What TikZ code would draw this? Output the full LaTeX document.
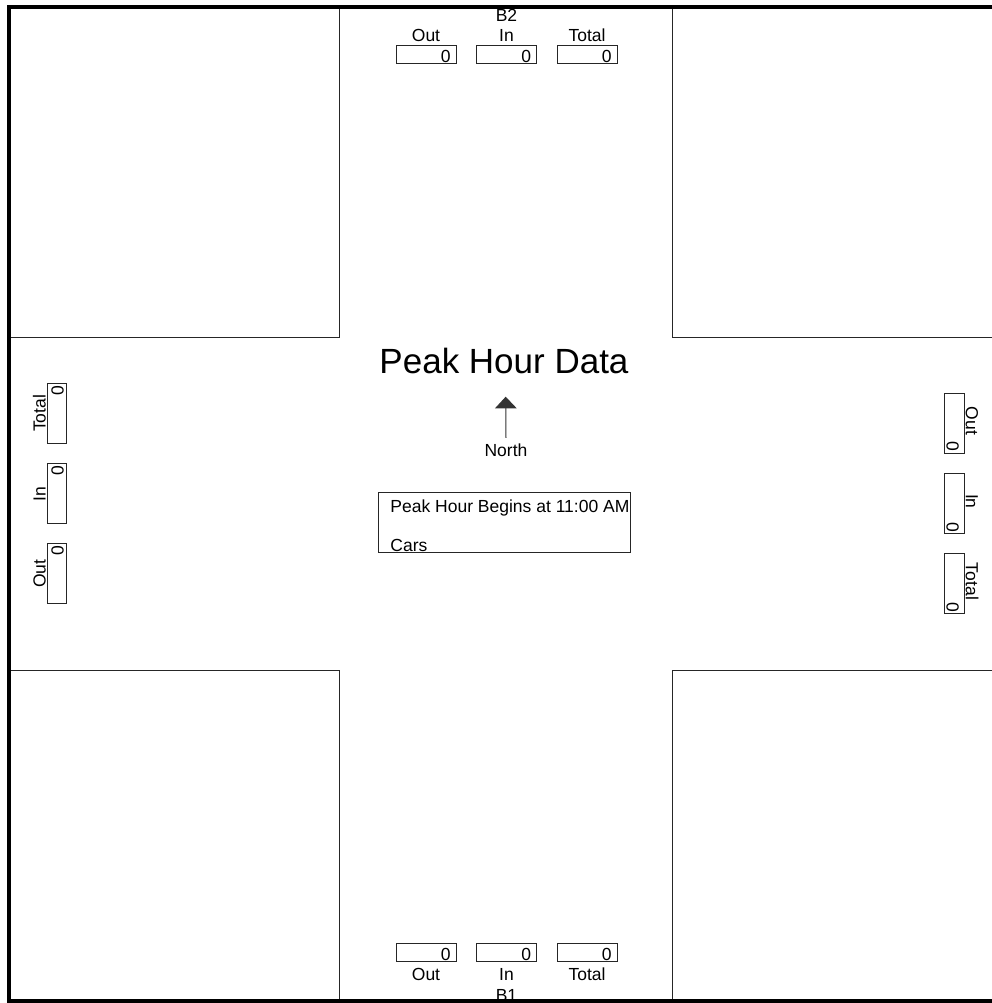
\documentclass[tikz,border=0pt]{standalone}
\usepackage{fontspec}
\setmainfont{Liberation Sans}
\usepackage{tikz}
\usetikzlibrary{arrows.meta,positioning}

\begin{document}
\begin{tikzpicture}[
            x=0.5pt, y=-0.5pt,
            font=\fontsize{8.75pt}{10.5pt}\selectfont,
            border/.style={line width=2pt, draw=black},
            block/.style={line width=0.5pt, draw=black!85},
            cntbox/.style={draw=black!85, line width=0.5pt, minimum width=30pt, minimum height=9pt, inner sep=0pt, outer sep=0pt},
            vcntbox/.style={draw=black!85, line width=0.5pt, minimum width=9.7pt, minimum height=30pt, inner sep=0pt, outer sep=0pt},
            cntlabel/.style={inner sep=0pt, anchor=base},
            cntval/.style={inner sep=0pt, anchor=base east},
            infobox/.style={draw=black!85, line width=0.5pt, minimum width=125.85pt, minimum height=30pt, inner sep=0pt, outer sep=0pt},
            title/.style={inner sep=0pt, anchor=base, font=\fontsize{17.5pt}{21pt}\selectfont},
            northarrow/.style={-{Triangle[width=10.85pt, length=5.85pt]}, line width=0.5pt, draw=black!80},
        ]
        \useasboundingbox (0,0) rectangle (992,1003);

        % corner blocks
        \draw[block] (9,6.5) rectangle (339.5,337);
        \draw[block] (672.5,6.5) rectangle (992,337);
        \draw[block] (9,670.5) rectangle (339.5,1001);
        \draw[block] (672.5,670.5) rectangle (992,1001);

        % B2 (top)
        \node[cntbox] (b2out) at (426,54.5) {};
        \node[cntbox, right=10.25pt of b2out] (b2in) {};
        \node[cntbox, right=10.25pt of b2in] (b2tot) {};
        \node[cntval] at ([shift={(-2.5pt,0.5pt)}]b2out.south east) {0};
        \node[cntval] at ([shift={(-2.5pt,0.5pt)}]b2in.south east) {0};
        \node[cntval] at ([shift={(-2.5pt,0.5pt)}]b2tot.south east) {0};
        \node[cntlabel] (b2outl) at ([yshift=2pt]b2out.north) {Out};
        \node[cntlabel] (b2inl) at ([yshift=2pt]b2in.north) {In};
        \node[cntlabel] (b2totl) at ([yshift=2pt]b2tot.north) {Total};
        \node[cntlabel] (b2) at ([yshift=12pt]b2in.north) {B2};

        % B1 (bottom)
        \node[cntbox] (b1out) at (426,952.2) {};
        \node[cntbox, right=10.25pt of b1out] (b1in) {};
        \node[cntbox, right=10.25pt of b1in] (b1tot) {};
        \node[cntval] at ([shift={(-2.5pt,0.5pt)}]b1out.south east) {0};
        \node[cntval] at ([shift={(-2.5pt,0.5pt)}]b1in.south east) {0};
        \node[cntval] at ([shift={(-2.5pt,0.5pt)}]b1tot.south east) {0};
        \node[cntlabel] (b1outl) at ([yshift=-9.85pt]b1out.south) {Out};
        \node[cntlabel] (b1inl) at ([yshift=-9.85pt]b1in.south) {In};
        \node[cntlabel] (b1totl) at ([yshift=-9.85pt]b1tot.south) {Total};
        \node[cntlabel] (b1) at ([yshift=-20.25pt]b1in.south) {B1};

        % west leg
        \node[vcntbox] (wtot) at (57,413.3) {};
        \node[vcntbox, below=10.25pt of wtot] (win) {};
        \node[vcntbox, below=10pt of win] (wout) {};
        \node[cntval, rotate=90] at ([shift={(-1.5pt,-1pt)}]wtot.north east) {0};
        \node[cntval, rotate=90] at ([shift={(-1.5pt,-1pt)}]win.north east) {0};
        \node[cntval, rotate=90] at ([shift={(-1.5pt,-1pt)}]wout.north east) {0};
        \node[cntlabel, rotate=90] (wtotl) at ([xshift=-0.8pt]wtot.west) {Total};
        \node[cntlabel, rotate=90] (winl) at ([xshift=-0.8pt]win.west) {In};
        \node[cntlabel, rotate=90] (woutl) at ([xshift=-0.8pt]wout.west) {Out};

        % east leg
        \node[vcntbox] (eout) at (954.5,423.3) {};
        \node[vcntbox, below=10.25pt of eout] (ein) {};
        \node[vcntbox, below=10pt of ein] (etot) {};
        \node[cntval, rotate=-90] at ([shift={(0.85pt,0.6pt)}]eout.south west) {0};
        \node[cntval, rotate=-90] at ([shift={(0.85pt,0.6pt)}]ein.south west) {0};
        \node[cntval, rotate=-90] at ([shift={(0.85pt,0.6pt)}]etot.south west) {0};
        \node[cntlabel, rotate=-90] (eoutl) at ([shift={(0.85pt,1.2pt)}]eout.east) {Out};
        \node[cntlabel, rotate=-90] (einl) at ([shift={(0.85pt,1.2pt)}]ein.east) {In};
        \node[cntlabel, rotate=-90] (etotl) at ([shift={(0.85pt,1.2pt)}]etot.east) {Total};

        % centre
        \node[title] (peak) at (504,373.3) {Peak Hour Data};
        \node[cntlabel] (north) at (506,456) {North};
        \coordinate (ntip) at (505.7,396.7);
        \draw[northarrow] ([yshift=2.5pt]north.north) -- (ntip);

        \node[infobox] (info) at (504.2,522.7) {};
        \node[cntlabel, anchor=base west] (begins) at ([shift={(5.85pt,-10pt)}]info.north west) {Peak Hour Begins at 11:00 AM};
        \node[cntlabel, anchor=base west] (cars) at ([shift={(5.85pt,0.5pt)}]info.south west) {Cars};

        % outer frame
        \draw[border] (992,6.5) -- (9,6.5) -- (9,1001) -- (992,1001);
    \end{tikzpicture}
\end{document}
